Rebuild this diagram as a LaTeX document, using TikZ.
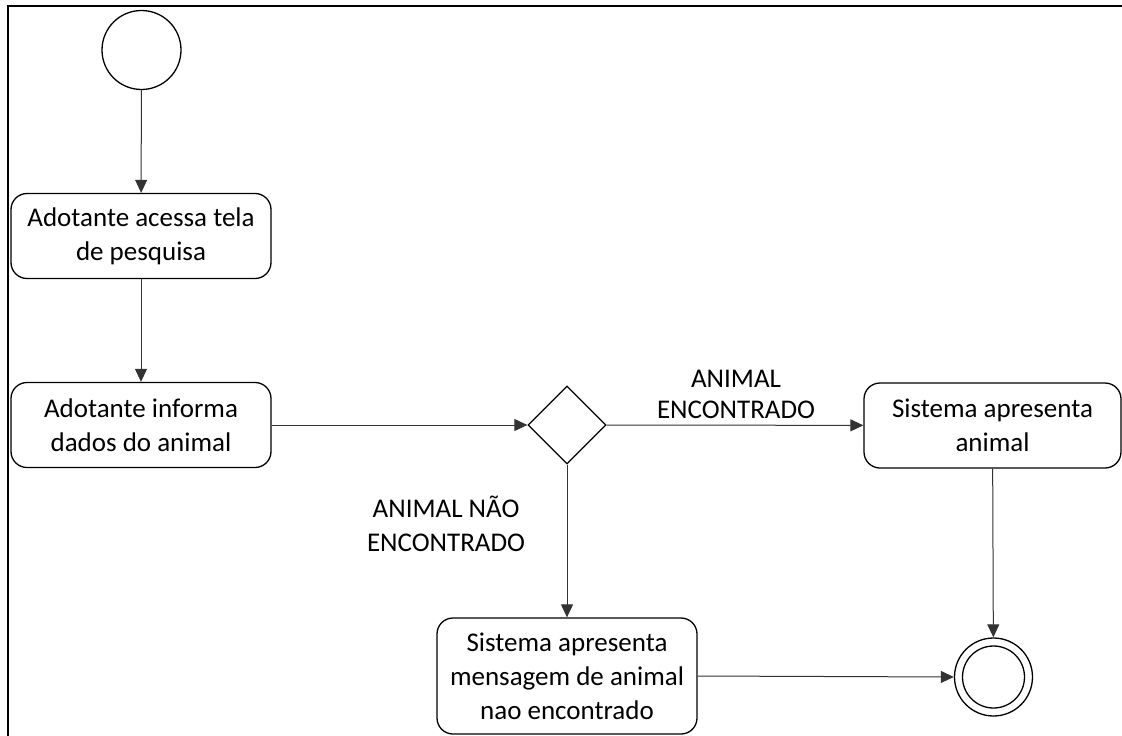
\documentclass[tikz,border=0pt]{standalone}
\usepackage{fontspec}
\setmainfont{Carlito}
\usetikzlibrary{arrows.meta,shapes.geometric}
\begin{document}
\begin{tikzpicture}[x=1pt,y=-1pt,
  actbox/.style={draw,line width=1.3pt,rounded corners=16pt,minimum width=260pt,minimum height=85pt,align=center,inner sep=2pt,font=\fontsize{27}{34}\selectfont},
  lbl/.style={align=center,inner sep=0pt,font=\fontsize{27}{31}\selectfont},
  flow/.style={draw=black!80,line width=1pt,-{Triangle[length=13pt,width=12pt]}},
  startnode/.style={circle,draw,line width=1.3pt,minimum size=79pt,inner sep=0pt},
  endnode/.style={circle,draw,line width=1.3pt,minimum size=79pt,inner sep=0pt,double,double distance=6pt},
  decide/.style={diamond,draw,line width=1.3pt,minimum width=78pt,minimum height=78pt,inner sep=0pt,aspect=1}]
\useasboundingbox (0,0) rectangle (1122,736);
\draw[line width=2.5pt] (8,737) -- (8,6) -- (1123,6);
\node[startnode] (start) at (141.5,50) {};
\node[actbox] (b1) at (141,236) {Adotante acessa tela\\de pesquisa};
\node[actbox] (b2) at (141,425) {Adotante informa\\dados do animal};
\node[decide] (d) at (567,425) {};
\node[actbox,minimum width=257pt] (b3) at (992.5,425.5) {Sistema apresenta\\animal};
\node[actbox,minimum height=116pt] (b4) at (567,676) {Sistema apresenta\\mensagem de animal\\nao encontrado};
\node[circle,minimum size=79pt,inner sep=0pt] (fin) at (993.5,677) {};
\draw[line width=1.3pt] (fin) circle (39pt);
\draw[line width=1.3pt] (fin) circle (31pt);
\node[lbl] (l1) at (736,394) {ANIMAL\\ENCONTRADO};
\node[lbl,font=\fontsize{27}{34}\selectfont] (l2) at (446,524) {ANIMAL NÃO\\ENCONTRADO};
\draw[flow] (start) -- (b1);
\draw[flow] (b1) -- (b2);
\draw[flow] (b2) -- (d);
\draw[flow] (d) -- (b3);
\draw[flow] (d) -- (b4);
\draw[flow] (b3) -- (fin);
\draw[flow] (b4.east) -- (fin.west);
\end{tikzpicture}
\end{document}
